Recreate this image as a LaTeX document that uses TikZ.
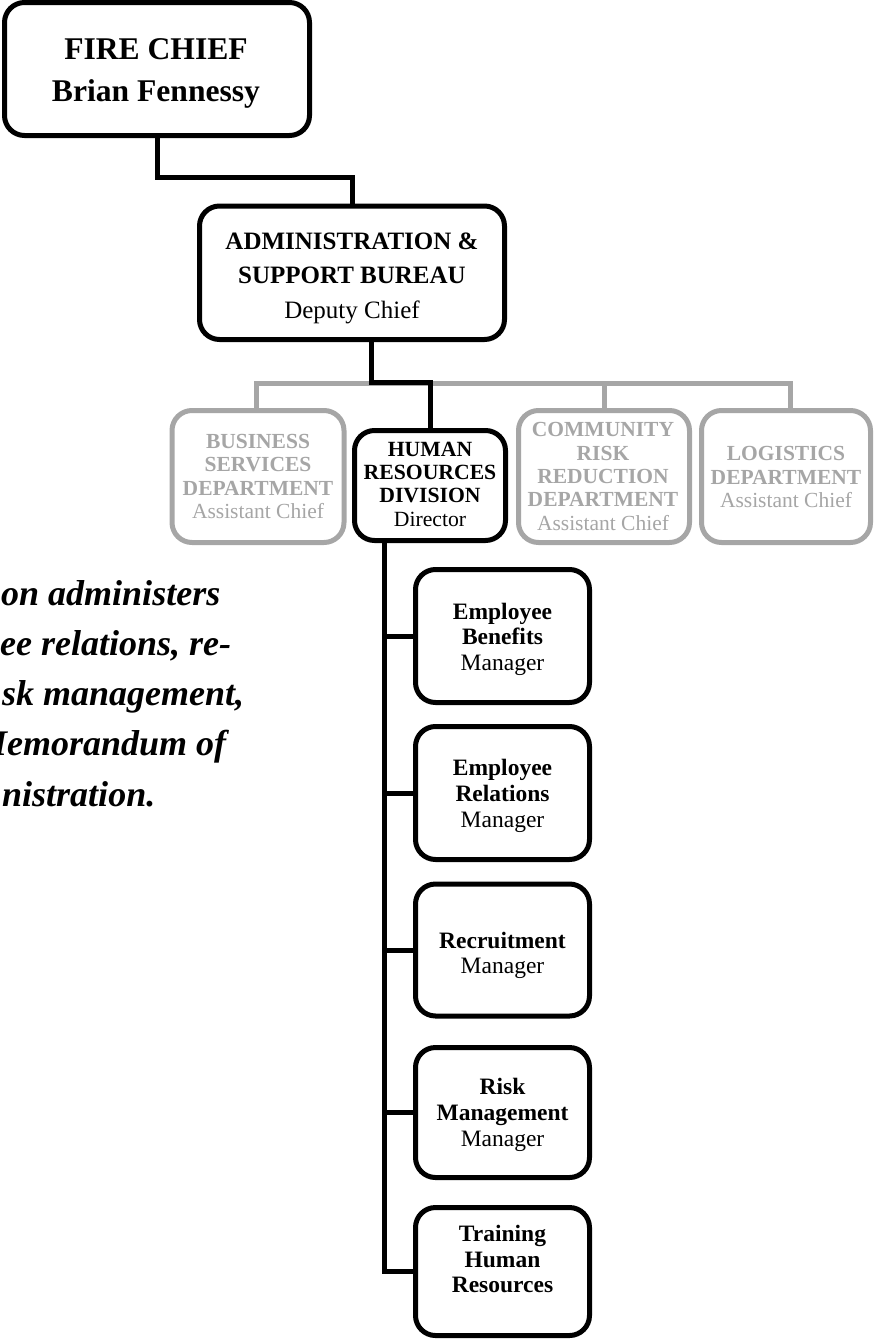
\documentclass[tikz,border=0pt]{standalone}
\usepackage{fontspec}
\setmainfont{Liberation Serif}
\definecolor{dim}{RGB}{166,166,166}
% type sizes for the different box levels
\newcommand{\chieffont}{\fontsize{31.6pt}{42pt}\selectfont\bfseries}
\newcommand{\adminfont}{\fontsize{25pt}{34.5pt}\selectfont}
\newcommand{\deptfont}{\fontsize{21.5pt}{23.3pt}\selectfont}
\newcommand{\hrfont}{\fontsize{21.7pt}{23.4pt}\selectfont}
\newcommand{\unitfont}{\fontsize{23.5pt}{25.8pt}\selectfont}
\newcommand{\notefont}{\fontsize{36pt}{50pt}\selectfont\bfseries\itshape}
\usetikzlibrary{calc}
\begin{document}
\begin{tikzpicture}[x=1pt,y=-1pt,
  box/.style={draw=black, line width=5pt, rounded corners=20pt, fill=white,
              inner sep=0pt, outer sep=0pt},
  gbox/.style={box, draw=dim},
  cbox/.style={box, minimum width=174pt},
  lbl/.style={inner sep=0pt, outer sep=0pt, align=center, anchor=north},
  conn/.style={draw=black, line width=5pt},
  gconn/.style={draw=dim, line width=5pt},
  note/.style={anchor=base west, inner sep=0pt, font=\notefont}]
\useasboundingbox (0,0) rectangle (874,1341);
\clip (0,0) rectangle (874,1341);

% boxes
\node[box, minimum width=305pt, minimum height=133pt] (chief) at (157,69) {};
\node[box, minimum width=305pt, minimum height=133.5pt] (admin) at (352,272.75) {};
\node[gbox, minimum width=172pt, minimum height=132pt] (bsd) at (258,476.5) {};
\node[box, minimum width=151pt, minimum height=110pt] (hrd) at (430,485.5) {};
\node[gbox, minimum width=171pt, minimum height=132pt] (crr) at (604,476.5) {};
\node[gbox, minimum width=169pt, minimum height=132pt] (lgd) at (786,476.5) {};
\node[cbox, minimum height=133pt] (ben) at (502.5,636) {};
\node[cbox, minimum height=133pt] (rel) at (502.5,793) {};
\node[cbox, minimum height=132pt] (rec) at (502.5,950) {};
\node[cbox, minimum height=130pt] (rsk) at (502.5,1112.5) {};
\node[cbox, minimum height=128pt] (trn) at (502.5,1271.5) {};

% connectors: grey bus first, black lines over it
\coordinate (bus) at (0,383.5);
\coordinate (trunk) at (384.5,0);
\draw[gconn] ([xshift=-2pt]bsd.north) -- ([xshift=-2pt]bsd.north |- bus)
             -- ([xshift=4pt]lgd.north |- bus) -- ([xshift=4pt]lgd.north);
\draw[gconn] (crr.north) -- (crr.north |- bus);
\draw[conn] (chief.south) -- ++(0,41.5) -| (admin.north);
\draw[conn] ([xshift=19pt]admin.south) -- ([xshift=19pt]admin.south |- 0,382.5) -| (hrd.north);
\draw[conn] (hrd.south -| trunk) |- (trn.west);
\foreach \c in {ben,rel,rec,rsk} \draw[conn] (\c.west -| trunk) -- (\c.west);

% box texts
\node[lbl, font=\chieffont] (chiefT) at (156,38.3) {FIRE CHIEF\\Brian Fennessy};
\node[lbl, font=\adminfont] (adminT) at (352,232.7)
  {\textbf{ADMINISTRATION \&}\\\textbf{SUPPORT BUREAU}\\Deputy Chief};
\node[lbl, font=\deptfont, text=dim] (bsdT) at (258,434.3)
  {\textbf{BUSINESS}\\\textbf{SERVICES}\\\textbf{DEPARTMENT}\\Assistant Chief};
\node[lbl, font=\hrfont] (hrdT) at (430,441.7)
  {\textbf{HUMAN}\\\textbf{RESOURCES}\\\textbf{DIVISION}\\Director};
\node[lbl, font=\deptfont, text=dim] (crrT) at (603,422.7)
  {\textbf{COMMUNITY}\\\textbf{RISK}\\\textbf{REDUCTION}\\\textbf{DEPARTMENT}\\Assistant Chief};
\node[lbl, font=\deptfont, text=dim] (lgdT) at (786,446.7)
  {\textbf{LOGISTICS}\\\textbf{DEPARTMENT}\\Assistant Chief};
\node[lbl, font=\unitfont] (benT) at (502.5,602.7) {\textbf{Employee}\\\textbf{Benefits}\\Manager};
\node[lbl, font=\unitfont] (relT) at (502.5,759.3) {\textbf{Employee}\\\textbf{Relations}\\Manager};
\node[lbl, font=\unitfont] (recT) at (502.5,931.7) {\textbf{Recruitment}\\Manager};
\node[lbl, font=\unitfont] (rskT) at (502.5,1078.3) {\textbf{Risk}\\\textbf{Management}\\Manager};
\node[lbl, font=\unitfont] (trnT) at (502.5,1225) {\textbf{Training}\\\textbf{Human}\\\textbf{Resources}};

% description running off the left edge
\node[note] (n1) at (1,605) {on administers};
\node[note] (n2) at (0,655) {ee relations, re-};
\node[note] (n3) at (2,705) {sk management,};
\node[note] (n4) at (-25,755) {Memorandum of};
\node[note] (n5) at (2,806) {nistration.};
\end{tikzpicture}
\end{document}
